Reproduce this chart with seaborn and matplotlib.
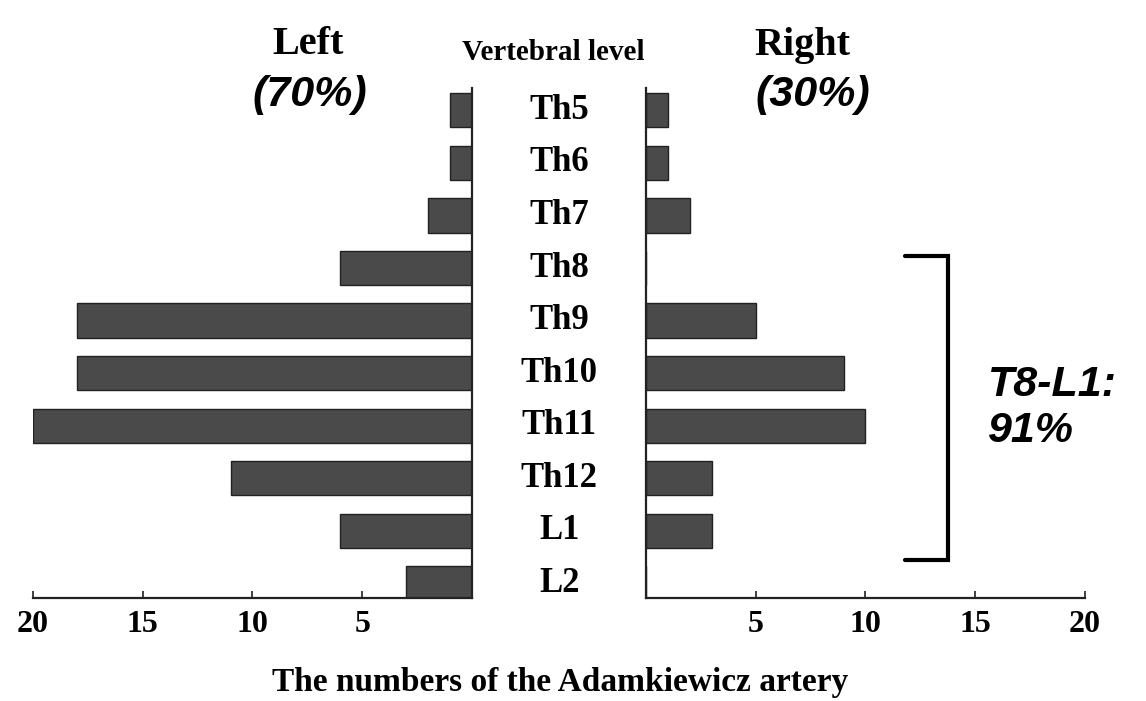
import matplotlib
matplotlib.use("Agg")
import matplotlib.pyplot as plt
import matplotlib.transforms as mtransforms
import seaborn as sns

# Data
levels = ["Th5", "Th6", "Th7", "Th8", "Th9", "Th10", "Th11", "Th12", "L1", "L2"]
left_counts = [1, 1, 2, 6, 18, 18, 20, 11, 6, 3]
right_counts = [1, 1, 2, 0, 5, 9, 10, 3, 3, 0]
left_ticks = [20, 15, 10, 5]
right_ticks = [5, 10, 15, 20]

sns.set_style("white")
plt.rcParams["font.family"] = ["Liberation Serif", "DejaVu Serif"]
plt.rcParams["text.color"] = "black"

serif = dict(family="Liberation Serif", weight="bold", color="black")
sans_it = dict(family="Liberation Sans", weight="bold", style="italic", color="black")

fig = plt.figure(figsize=(11.46, 7.01), dpi=100)
ax_l = fig.add_axes([0.0288, 0.147, 0.383, 0.727])
ax_r = fig.add_axes([0.5637, 0.147, 0.383, 0.727])

bar_kw = dict(orient="h", color="#4a4a4a", edgecolor="#222222", linewidth=1.0,
              width=0.65, saturation=1)
sns.barplot(x=left_counts, y=levels, ax=ax_l, **bar_kw)
sns.barplot(x=right_counts, y=levels, ax=ax_r, **bar_kw)

for ax, ticks in [(ax_l, left_ticks), (ax_r, right_ticks)]:
    ax.set_ylim(9.28, -0.42)
    ax.set_yticks([])
    ax.set_ylabel("")
    ax.set_xlabel("")
    ax.set_xticks(ticks)
    ax.set_xticklabels([str(t) for t in ticks], fontsize=23, **serif)
    ax.tick_params(axis="x", direction="in", length=5, width=1.2, pad=9,
                   bottom=True, color="#222")
    ax.spines["top"].set_visible(False)
    for s in ax.spines.values():
        s.set_linewidth(1.6)
        s.set_color("#222")

ax_l.set_xlim(20, 0)
ax_r.set_xlim(0, 20)
ax_l.spines["left"].set_visible(False)
ax_r.spines["right"].set_visible(False)

# vertebral level labels in the gap
trans = mtransforms.blended_transform_factory(fig.transFigure, ax_r.transData)
for i, lv in enumerate(levels):
    fig.text(0.488, i, lv, transform=trans, ha="center", va="center",
             fontsize=25, **serif)

fig.text(0.483, 1 - 53 / 701, "Vertebral level", ha="center", va="center",
         fontsize=21, **serif)
fig.text(0.269, 1 - 45 / 701, "Left", ha="center", va="center", fontsize=29, **serif)
fig.text(0.700, 1 - 45 / 701, "Right", ha="center", va="center", fontsize=29, **serif)
fig.text(0.270, 1 - 95 / 701, "(70%)", ha="center", va="center", fontsize=31, **sans_it)
fig.text(0.709, 1 - 95 / 701, "(30%)", ha="center", va="center", fontsize=31, **sans_it)
fig.text(0.489, 1 - 683 / 701, "The numbers of the Adamkiewicz artery",
         ha="center", va="center", fontsize=24, **serif)

# bracket marking T8-L1
top = levels.index("Th8") - 0.22
bot = levels.index("L1") + 0.55
btrans = mtransforms.blended_transform_factory(ax_r.transAxes, ax_r.transData)
ax_r.plot([0.590, 0.688, 0.688, 0.590], [top, top, bot, bot], color="black",
          linewidth=3, transform=btrans, clip_on=False, solid_joinstyle="miter")
fig.text(0.862, 1 - 385 / 701, "T8-L1:", ha="left", va="center", fontsize=31, **sans_it)
fig.text(0.862, 1 - 431 / 701, "91%", ha="left", va="center", fontsize=31, **sans_it)

fig.savefig("out.png", dpi=100, facecolor="white")
